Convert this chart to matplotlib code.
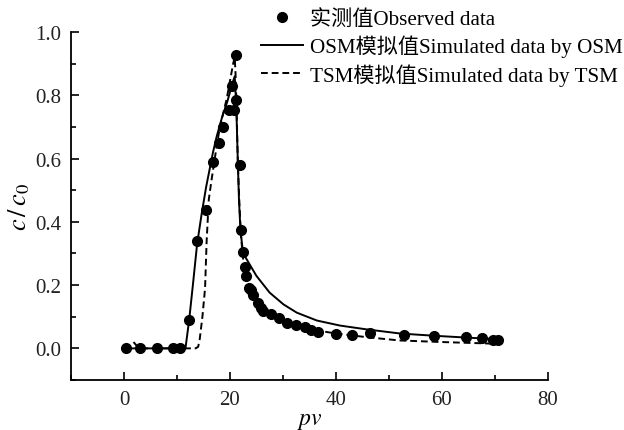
import matplotlib
matplotlib.use('Agg')
import matplotlib.pyplot as plt
from matplotlib.ticker import MultipleLocator

plt.rcParams['font.family'] = ['Liberation Serif', 'Noto Sans CJK SC']
plt.rcParams['mathtext.fontset'] = 'stix'

# observed data (pv, c/c0)
obs_pv = [0.3, 3.0, 6.2, 9.2, 10.6, 12.3, 13.8, 15.4, 16.8, 17.9, 18.7, 19.9, 20.8,
          20.3, 21.1, 21.2, 21.9, 22.1, 22.5, 22.8, 23.0, 23.5, 23.9, 24.4, 25.3,
          25.8, 26.3, 27.7, 29.2, 30.8, 32.4, 34.2, 35.3, 36.7, 40.0, 43.0, 46.4,
          52.9, 58.5, 64.5, 67.6, 69.7, 70.5]
obs_c = [0.0, 0.0, 0.0, 0.0, 0.0, 0.089, 0.339, 0.438, 0.59, 0.649, 0.70, 0.754, 0.754,
         0.83, 0.786, 0.927, 0.579, 0.373, 0.305, 0.256, 0.229, 0.19, 0.184, 0.168, 0.142,
         0.129, 0.118, 0.108, 0.097, 0.079, 0.073, 0.068, 0.057, 0.052, 0.046, 0.043, 0.049,
         0.041, 0.039, 0.037, 0.034, 0.028, 0.027]

# OSM simulated curve
osm_pv = [0.3, 5.0, 11.0, 11.6, 12.3, 13.0, 13.8, 14.7, 15.5, 16.8, 17.5, 18.5, 19.5,
          20.5, 20.9, 21.2, 21.5, 21.7, 21.9, 22.2, 22.5, 25.0, 27.5, 30.1, 32.6, 36.4,
          40.8, 45.8, 52.1, 58.4, 64.7, 70.5]
osm_c = [0.0, 0.0, 0.0, 0.0, 0.09, 0.2, 0.33, 0.43, 0.51, 0.62, 0.67, 0.73, 0.78,
         0.84, 0.86, 0.76, 0.58, 0.47, 0.40, 0.34, 0.30, 0.229, 0.176, 0.139, 0.113, 0.088,
         0.072, 0.06, 0.047, 0.04, 0.034, 0.029]

# TSM simulated curve
tsm_pv = [1.8, 2.8, 8.0, 13.5, 14.0, 14.3, 14.8, 15.3, 15.6, 16.0, 16.5, 17.5, 18.1,
          19.4, 20.6, 20.9, 21.1, 21.3, 21.5, 21.8, 22.1, 22.5, 23.0, 24.0, 25.0, 26.5,
          28.0, 30.0, 33.0, 36.0, 40.0, 46.0, 52.0, 60.0, 69.5]
tsm_c = [0.02, 0.0, 0.0, 0.0, 0.005, 0.03, 0.1, 0.19, 0.34, 0.47, 0.53, 0.64, 0.70,
         0.79, 0.90, 0.92, 0.85, 0.72, 0.58, 0.45, 0.35, 0.28, 0.23, 0.18, 0.15, 0.12,
         0.10, 0.085, 0.07, 0.058, 0.047, 0.035, 0.025, 0.02, 0.015]

fig = plt.figure(figsize=(6.24, 4.31), dpi=100)
ax = fig.add_axes([0.1138, 0.116, 0.878 - 0.1138, 0.9234 - 0.116])

ax.plot(obs_pv, obs_c, 'o', color='black', markersize=7, label='实测值Observed data', zorder=3)
ax.plot(osm_pv, osm_c, '-', color='black', linewidth=1.4, label='OSM模拟值Simulated data by OSM')
ax.plot(tsm_pv, tsm_c, color='black', linewidth=1.4, dashes=(3.5, 2),
        label='TSM模拟值Simulated data by TSM')

ax.set_xlim(-10, 80)
ax.set_ylim(-0.1, 1.0)
ax.xaxis.set_major_locator(MultipleLocator(20))
ax.xaxis.set_minor_locator(MultipleLocator(10))
ax.yaxis.set_major_locator(MultipleLocator(0.2))
ax.yaxis.set_minor_locator(MultipleLocator(0.1))
ax.set_xticks([0, 20, 40, 60, 80])
ax.set_yticks([0.0, 0.2, 0.4, 0.6, 0.8, 1.0])
ax.set_yticklabels(['0.0', '0.2', '0.4', '0.6', '0.8', '1.0'])

for s in ['top', 'right']:
    ax.spines[s].set_visible(False)
for s in ['left', 'bottom']:
    ax.spines[s].set_linewidth(1.3)
ax.tick_params(which='major', direction='in', length=6, width=1.2, labelsize=15, pad=7,
               labelcolor='#222222')
ax.tick_params(which='minor', direction='in', length=3.5, width=1.2)

ax.set_xlabel(r'$pv$', fontsize=17, labelpad=1)
ax.set_ylabel(r'$c\,/\,c_0$', fontsize=19, labelpad=2)

ax.legend(loc='upper left', bbox_to_anchor=(261 / 624, 1 - 10 / 431), bbox_transform=fig.transFigure,
          frameon=False, fontsize=15.2, handlelength=2.0, handletextpad=0.3,
          labelspacing=0.28, borderaxespad=0, borderpad=0)

fig.savefig('out.png', dpi=100)
